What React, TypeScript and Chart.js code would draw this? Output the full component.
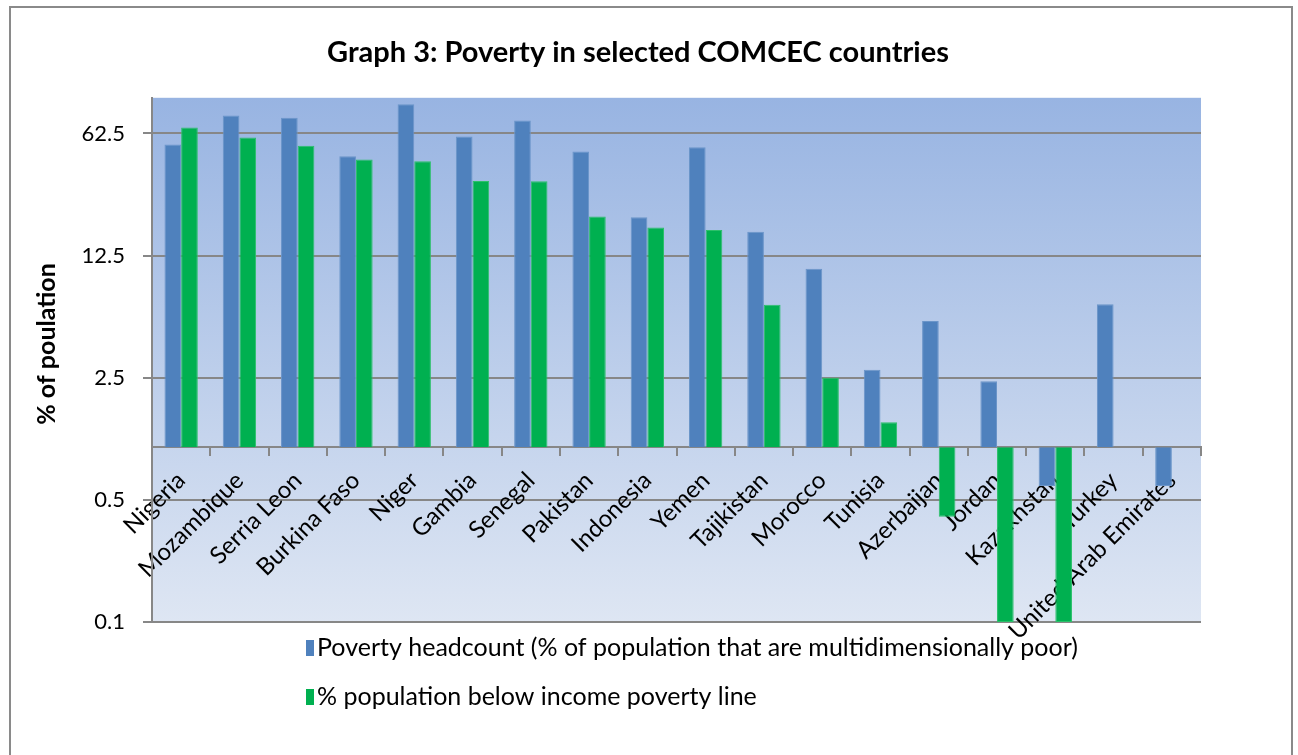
import React, { useEffect, useRef } from 'react';
import { Chart, registerables } from 'chart.js';

Chart.register(...registerables);

const titleText = 'Graph 3: Poverty in selected COMCEC countries';
const yAxisTitle = '% of poulation';

const categories = [
  'Nigeria', 'Mozambique', 'Serria Leon', 'Burkina Faso', 'Niger', 'Gambia',
  'Senegal', 'Pakistan', 'Indonesia', 'Yemen', 'Tajikistan', 'Morocco',
  'Tunisia', 'Azerbaijan', 'Jordan', 'Kazakhstan', 'Turkey', 'United Arab Emirates',
];

const seriesNames = [
  'Poverty headcount (% of population that are multidimensionally poor)',
  '% population below income poverty line',
];

const headcount = [54.1, 79.3, 76.8, 46.3, 92.0, 60.1, 74.2, 49.3, 20.7, 52.2, 17.1, 10.5, 2.78, 5.28, 2.39, 0.6, 6.58, 0.6];
const incomePoverty = [67.7, 59.3, 53.1, 44.4, 43.4, 33.4, 33.3, 20.9, 18.1, 17.5, 6.55, 2.5, 1.39, 0.4, 0.1, 0.1, null, null];

const yTicks = [0.1, 0.5, 2.5, 12.5, 62.5];

const seriesColors = ['#4f81bd', '#00b050'];
const seriesBorders = ['#6b95c9', '#2cc06a'];

const FONT = 'Lato, "Open Sans", sans-serif';
const GRID = '#878787';

const bgPlugin = {
  id: 'plotBg',
  beforeDraw(chart: any) {
    const { ctx, chartArea } = chart;
    if (!chartArea) return;
    const g = ctx.createLinearGradient(0, chartArea.top, 0, chartArea.bottom);
    g.addColorStop(0, '#98b4e2');
    g.addColorStop(1, '#dee6f3');
    ctx.save();
    ctx.fillStyle = g;
    ctx.fillRect(chartArea.left, chartArea.top, chartArea.right - chartArea.left, chartArea.bottom - chartArea.top);
    ctx.restore();
  },
};

const extrasPlugin = {
  id: 'extras',
  afterDraw(chart: any) {
    const { ctx, chartArea } = chart;
    if (!chartArea) return;
    ctx.save();
    // y axis title
    ctx.font = `bold 25px ${FONT}`;
    ctx.fillStyle = '#000';
    ctx.textAlign = 'center';
    ctx.textBaseline = 'middle';
    ctx.translate(47, 344);
    ctx.rotate(-Math.PI / 2);
    ctx.fillText(yAxisTitle, 0, 0);
    ctx.restore();

    // legend
    ctx.save();
    ctx.font = `25px ${FONT}`;
    ctx.textAlign = 'left';
    ctx.textBaseline = 'middle';
    const lx = chartArea.left + 154;
    const ys = [chartArea.bottom + 26, chartArea.bottom + 75];
    seriesNames.forEach((name, i) => {
      ctx.fillStyle = seriesColors[i];
      ctx.fillRect(lx, ys[i] - 8, 8, 16);
      ctx.fillStyle = '#000';
      ctx.fillText(name, lx + 11, ys[i]);
    });
    ctx.restore();
  },
};

export default function App() {
  const canvasRef = useRef<HTMLCanvasElement | null>(null);

  useEffect(() => {
    if (!canvasRef.current) return;
    const chart = new Chart(canvasRef.current, {
      type: 'bar',
      data: {
        labels: categories,
        datasets: [
          {
            label: seriesNames[0],
            data: headcount,
            yAxisID: 'y',
            backgroundColor: seriesColors[0],
            borderColor: seriesBorders[0],
            borderWidth: 1,
            base: 1,
            categoryPercentage: 0.572,
            barPercentage: 1,
          } as any,
          {
            label: seriesNames[1],
            data: incomePoverty,
            yAxisID: 'y',
            backgroundColor: seriesColors[1],
            borderColor: seriesBorders[1],
            borderWidth: 1,
            base: 1,
            categoryPercentage: 0.572,
            barPercentage: 1,
          } as any,
        ],
      },
      options: {
        animation: false,
        responsive: true,
        maintainAspectRatio: false,
        layout: { padding: { left: 0, right: 22, top: 0, bottom: 133 } },
        plugins: {
          legend: { display: false },
          tooltip: { enabled: false },
          title: {
            display: true,
            text: titleText,
            color: '#000',
            font: { family: FONT, size: 29, weight: 'bold' },
            padding: { top: 35, bottom: 28 },
          },
        },
        scales: {
          x: {
            type: 'category',
            position: { y: 1 } as any,
            offset: true,
            grid: {
              offset: true,
              drawOnChartArea: false,
              drawTicks: true,
              tickLength: 8,
              color: GRID,
              lineWidth: 2,
            },
            border: { display: true, color: GRID, width: 2 },
            ticks: {
              autoSkip: false,
              minRotation: 45,
              maxRotation: 45,
              padding: 11,
              color: '#000',
              font: { family: FONT, size: 24 },
            },
            afterFit: (s: any) => { s.height = 0; },
          },
          y: {
            type: 'logarithmic',
            position: 'left',
            min: 0.1,
            max: 100,
            afterBuildTicks: (s: any) => { s.ticks = yTicks.map((v) => ({ value: v })); },
            afterFit: (s: any) => { s.width = 152; },
            grid: { color: GRID, lineWidth: 2, tickLength: 9 },
            border: { display: true, color: GRID, width: 2 },
            ticks: {
              padding: 18,
              color: '#000',
              font: { family: FONT, size: 22 },
              callback: (v: any) => String(v),
            },
          },
          yRight: {
            type: 'linear',
            position: 'right',
            display: true,
            grid: { display: false },
            border: { display: false },
            ticks: { display: false },
            afterFit: (s: any) => { s.width = 75; },
          },
        },
      },
      plugins: [bgPlugin, extrasPlugin],
    });
    return () => chart.destroy();
  }, []);

  return (
    <div style={{ position: 'fixed', left: 0, top: 0, width: 1298, height: 755, overflow: 'hidden', background: '#fff' }}>
      <div
        style={{
          position: 'absolute', left: 9, top: 6, width: 1284, height: 800,
          boxSizing: 'border-box', borderLeft: '2px solid #8a8a8a', borderTop: '2px solid #8a8a8a', borderRight: '2px solid #8a8a8a',
        }}
      />
      <div style={{ position: 'absolute', left: 0, top: 0, width: 1298, height: 755 }}>
        <canvas ref={canvasRef} />
      </div>
    </div>
  );
}
